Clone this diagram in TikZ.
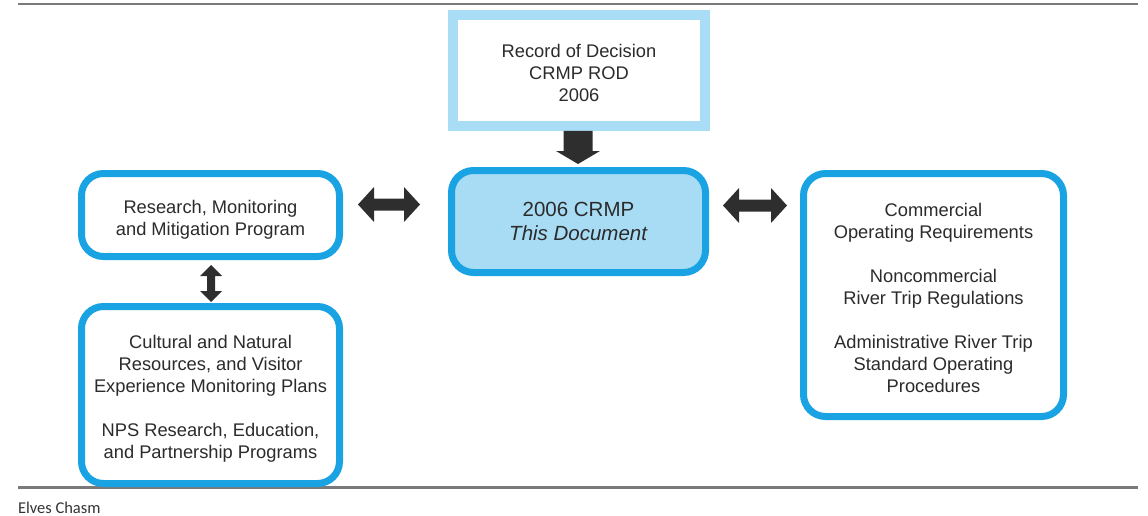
\documentclass[tikz,border=0pt]{standalone}
\usepackage{fontspec}
\setmainfont{Liberation Sans}
\newfontfamily\footfont{Carlito}
\definecolor{lblue}{HTML}{A9DCF5}
\definecolor{bblue}{HTML}{1AA3E3}
\definecolor{cfill}{HTML}{A8DCF4}
\definecolor{txt}{HTML}{2B2B2B}
\definecolor{arr}{HTML}{2E2E2E}
\definecolor{rule}{HTML}{7A7A7A}
\begin{document}
\begin{tikzpicture}[x=1pt,y=-1pt,
  every node/.style={inner sep=0pt, outer sep=0pt, text=txt, align=center,
    font=\fontsize{18.3}{22}\selectfont},
  bluebox/.style={draw=bblue, line width=7pt, rounded corners=22pt, fill=white},
  blockarrow/.style={fill=arr, draw=none}]
\useasboundingbox (0,0) rectangle (1148,516);
% rules
\draw[rule, line width=2.5pt] (18,4) -- (1138,4);
\draw[rule, line width=2.5pt] (18,487.5) -- (1138,487.5);
% boxes
\node[draw=lblue, line width=10pt, fill=white, minimum width=252pt, minimum height=111pt] (rec) at (579,70.5) {};
\node[bluebox, fill=cfill, minimum width=254pt, minimum height=102pt] (ctr) at (578.5,221.5) {};
\node[bluebox, minimum width=258pt, minimum height=83pt] (lt) at (210.5,215) {};
\node[bluebox, minimum width=258pt, minimum height=177pt] (lb) at (210.5,395) {};
\node[bluebox, minimum width=260pt, minimum height=243pt] (rt) at (933.5,295) {};
% texts
\node (rectxt) at ([yshift=-2pt]rec.center) {Record of Decision\\CRMP ROD\\2006};
\node[font=\fontsize{20.5}{24}\selectfont] (ctrtxt) at (ctr.center)
  {2006 CRMP\\\textit{This Document}};
\node (lttxt) at ([yshift=-5pt]lt.center) {Research, Monitoring\\and Mitigation Program};
\node (lbtxt) at ([yshift=-4pt]lb.center)
  {Cultural and Natural\\Resources, and Visitor\\Experience Monitoring Plans\\[22pt]NPS Research, Education,\\and Partnership Programs};
\node (rttxt) at ([yshift=-3pt]rt.center)
  {Commercial\\Operating Requirements\\[22pt]Noncommercial\\River Trip Regulations\\[22pt]Administrative River Trip\\Standard Operating\\Procedures};
% block arrows
\fill[blockarrow] (563.5,131) -- (592.5,131) -- (592.5,151) -- (600,151) -- (578,164)
  -- (556,151) -- (563.5,151) -- cycle;
\fill[blockarrow] (358,204.5) -- (374,187) -- (374,198.5) -- (404,198.5) -- (404,187)
  -- (420,204.5) -- (404,222) -- (404,210.5) -- (374,210.5) -- (374,222) -- cycle;
\fill[blockarrow] (723,205.5) -- (739,188) -- (739,199.5) -- (771,199.5) -- (771,188)
  -- (787,205.5) -- (771,223) -- (771,211.5) -- (739,211.5) -- (739,223) -- cycle;
\fill[blockarrow] (211,265) -- (222,276) -- (215,276) -- (215,291) -- (222,291)
  -- (211,302) -- (200,291) -- (207,291) -- (207,276) -- (200,276) -- cycle;
% footer
\node[anchor=west, font=\footfont\fontsize{16.5}{18}\selectfont, text=black!80] (foot) at (18,507.5) {Elves Chasm};
\end{tikzpicture}
\end{document}
